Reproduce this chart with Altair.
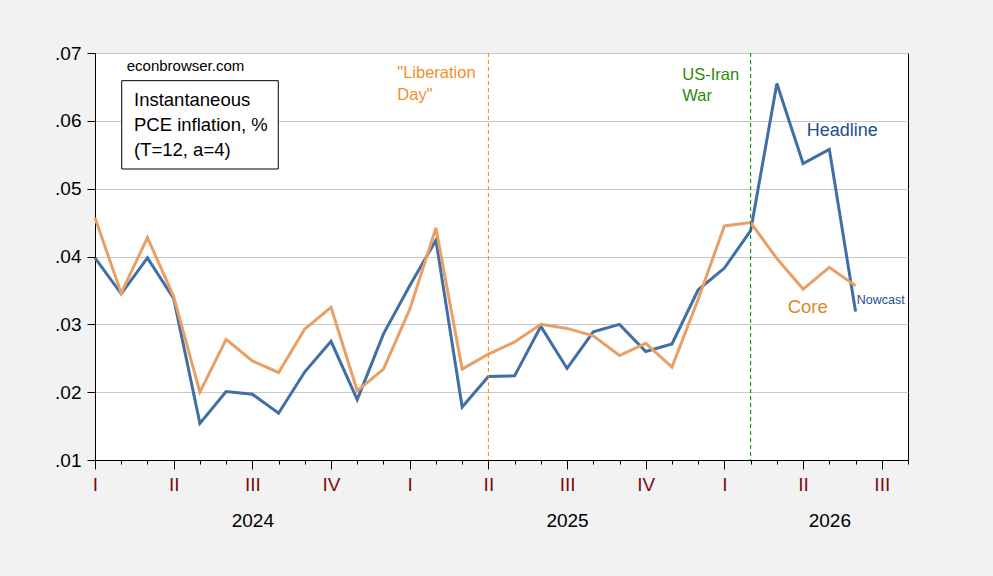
import altair as alt
import pandas as pd

# ---------------- data ----------------
months = [
    "2024-01", "2024-02", "2024-03", "2024-04", "2024-05", "2024-06",
    "2024-07", "2024-08", "2024-09", "2024-10", "2024-11", "2024-12",
    "2025-01", "2025-02", "2025-03", "2025-04", "2025-05", "2025-06",
    "2025-07", "2025-08", "2025-09", "2025-10", "2025-11", "2025-12",
    "2026-01", "2026-02", "2026-03", "2026-04", "2026-05", "2026-06",
]
headline = [
    0.0398, 0.0345, 0.0398, 0.0338, 0.0154, 0.0201, 0.0197, 0.0169, 0.0230, 0.0275,
    0.0189, 0.0286, 0.0357, 0.0424, 0.0178, 0.0223, 0.0224, 0.0297, 0.0235, 0.0289,
    0.0300, 0.0260, 0.0271, 0.0351, 0.0383, 0.0438, 0.0655, 0.0537, 0.0558, 0.0319,
]
core = [
    0.0457, 0.0346, 0.0428, 0.0341, 0.0200, 0.0278, 0.0246, 0.0229, 0.0293, 0.0325,
    0.0202, 0.0234, 0.0322, 0.0442, 0.0234, 0.0256, 0.0274, 0.0300, 0.0294, 0.0283,
    0.0254, 0.0272, 0.0237, 0.0337, 0.0445, 0.0450, 0.0397, 0.0352, 0.0384, 0.0357,
]
event_months = ["2025-04", "2026-02"]
event_names = ["Liberation Day", "US-Iran War"]
y_ticks = [0.01, 0.02, 0.03, 0.04, 0.05, 0.06, 0.07]
quarter_names = ["I", "II", "III", "IV"]
year_label_months = [6, 18, 28]   # month index where year labels sit
start_year = 2024
n_months_axis = 31                # axis runs Jan 2024 .. Aug 2026


def month_index(s):
    y, m = s.split("-")
    return (int(y) - start_year) * 12 + int(m) - 1


df = pd.DataFrame({
    "month": months,
    "idx": [month_index(m) for m in months],
    "Headline": headline,
    "Core": core,
})
ev = pd.DataFrame({"event": event_names, "idx": [month_index(m) for m in event_months]})
one = pd.DataFrame({"k": [0]})

FONT = "Liberation Sans"
xs = alt.Scale(domain=[0, n_months_axis], nice=False, zero=False)
ys = alt.Scale(domain=[0.01, 0.07], nice=False, zero=False)

axis_minor = alt.Axis(values=list(range(0, n_months_axis + 1)), tickSize=4, labels=False,
                      grid=False, domain=True, domainColor="black", tickColor="black",
                      title=None, orient="bottom")
axis_major = alt.Axis(values=list(range(0, n_months_axis + 1, 3)), tickSize=9,
                      labelExpr="['" + "','".join(quarter_names) + "'][(datum.value/3)%4]",
                      labelColor="#7a0c0c", labelFontSize=19, labelFont=FONT,
                      grid=False, domain=False, tickColor="black", title=None,
                      labelBaseline="alphabetic", labelPadding=21, orient="bottom",
                      labelFlush=False, labelOverlap=False)
axis_year = alt.Axis(values=year_label_months, ticks=False, tickSize=0, domain=False,
                     labelExpr="'' + (%d + floor(datum.value/12))" % start_year,
                     labelColor="black", labelFontSize=19, labelFont=FONT,
                     grid=False, title=None, labelBaseline="alphabetic", labelPadding=66,
                     orient="bottom", labelFlush=False, labelOverlap=False)
axis_y = alt.Axis(values=y_ticks, labelExpr="substring(format(datum.value, '.2f'), 1)",
                  tickSize=8, labelPadding=6, grid=True, gridColor="#C8C8C8",
                  domainColor="black", tickColor="black", labelColor="black",
                  labelFontSize=19, labelFont=FONT, title=None, orient="left")

base = alt.Chart(df)

head_line = base.mark_line(color="#3F6FA4", strokeWidth=3).encode(
    x=alt.X("idx:Q", scale=xs, axis=axis_minor),
    y=alt.Y("Headline:Q", scale=ys, axis=axis_y),
)
core_line = base.mark_line(color="#E9A066", strokeWidth=3).encode(
    x=alt.X("idx:Q", scale=xs, axis=axis_major),
    y=alt.Y("Core:Q", scale=ys, axis=None),
)
rule_lib = alt.Chart(ev).transform_filter(alt.datum.event == "Liberation Day").mark_rule(
    color="#FF8000", strokeWidth=1, strokeDash=[4, 3]).encode(
    x=alt.X("idx:Q", scale=xs, axis=axis_year))
rule_war = alt.Chart(ev).transform_filter(alt.datum.event == "US-Iran War").mark_rule(
    color="#008000", strokeWidth=1, strokeDash=[4, 3]).encode(
    x=alt.X("idx:Q", scale=xs, axis=None))

box = alt.Chart(one).mark_rect(fill="white", stroke="black", strokeWidth=1).encode(
    x=alt.XDatum(1.018, axis=None), x2=alt.X2Datum(6.989),
    y=alt.YDatum(0.06592, axis=None), y2=alt.Y2Datum(0.05290),
)


def label(text, xv, yv, color, size, line_height=None):
    kw = dict(align="left", baseline="alphabetic", font=FONT, fontSize=size, color=color)
    if line_height:
        kw.update(lineBreak="\n", lineHeight=line_height)
    return alt.Chart(one).mark_text(**kw).encode(
        x=alt.XDatum(xv, axis=None), y=alt.YDatum(yv, axis=None),
        text=alt.value(text))


texts = [
    label("econbrowser.com", 1.209, 0.06739, "black", 15),
    label("Instantaneous\nPCE inflation, %\n(T=12, a=4)", 1.487, 0.06223, "black", 18.5, 25),
    label("\"Liberation\nDay\"", 11.527, 0.06627, "#F28E2B", 16.5, 21.5),
    label("US-Iran\nWar", 22.394, 0.06602, "#2B8A0B", 16.5, 21),
    label("Headline", 27.137, 0.05781, "#1F4E8C", 18),
    label("Core", 26.413, 0.03172, "#D8891F", 18.5),
    label("Nowcast", 29.044, 0.03300, "#1F4E8C", 12.5),
]

chart = alt.layer(
    head_line, core_line, rule_lib, rule_war, box, *texts
).resolve_axis(x="independent", y="independent").properties(
    width=813, height=407,
    autosize=alt.AutoSizeParams(type="none"),
    padding={"left": 95, "top": 53, "right": 85, "bottom": 116},
    background="#F2F2F2",
).configure_view(fill="white", stroke="black", strokeWidth=1)

chart.save("out.html", embed_options={"renderer": "svg", "actions": False})
